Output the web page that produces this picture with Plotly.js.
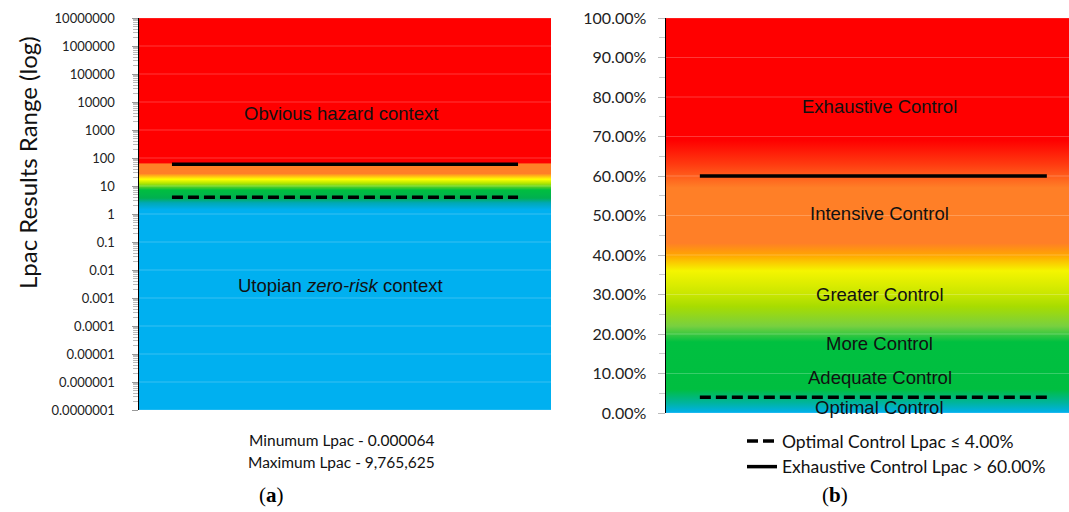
<!DOCTYPE html>
<html><head><meta charset="utf-8">
<script src="https://cdn.plot.ly/plotly-3.0.1.min.js"></script>
<style>html,body{margin:0;padding:0;background:#fff}#chart{width:1069px;height:512px}</style>
</head><body><div id="chart"></div><script>
// ---------- Panel (a) ----------
const leftTickVals = [1e-7, 1e-6, 1e-5, 1e-4, 1e-3, 1e-2, 1e-1, 1, 10, 100, 1000, 10000, 100000, 1000000, 10000000];
const leftTickText = ['0.0000001','0.000001','0.00001','0.0001','0.001','0.01','0.1','1','10','100','1000','10000','100000','1000000','10000000'];
const leftStopValues = [1e-7, 1.4, 2.5, 3.7, 7.2, 12.5, 17.4, 28, 63, 64.5, 1e7];
const leftStopColors = ['#00B0F0','#00B0F0','#00A8B4','#00B050','#00BE40','#B4E600','#FFFF00','#FF7F27','#FF7F27','#FF0000','#FF0000'];
const leftThresholds = [60, 4];            // solid, dashed
const leftZoneLabels = ['Obvious hazard context', 'Utopian <i>zero-risk</i> context'];
const leftZoneLabelValues = [4000, 0.0027];
const leftFooter = ['Minumum Lpac - 0.000064', 'Maximum Lpac - 9,765,625'];
const leftAxisTitle = 'Lpac Results Range (log)';

// ---------- Panel (b) ----------
const rightTickVals = [0, 10, 20, 30, 40, 50, 60, 70, 80, 90, 100];
const rightTickText = ['0.00%','10.00%','20.00%','30.00%','40.00%','50.00%','60.00%','70.00%','80.00%','90.00%','100.00%'];
const rightStopValues = [0, 2.5, 6, 18, 22, 27, 30, 36, 40, 43, 57, 63, 69, 100];
const rightStopColors = ['#00B0F0','#00B4A0','#00BE40','#00C040','#78D040','#A8DC00','#C8E600','#F5F500','#FFA500','#FF7F27','#FF7F27','#FF3A10','#FF0000','#FF0000'];
const rightThresholds = [4, 60];           // dashed, solid
const rightZoneLabels = ['Exhaustive Control','Intensive Control','Greater Control','More Control','Adequate Control','Optimal Control'];
const rightZoneLabelValues = [77.7, 50.4, 30.1, 17.7, 9.1, 1.5];
const legendNames = ['Optimal Control Lpac ≤ 4.00%', 'Exhaustive Control Lpac > 60.00%'];
const panelTags = ['(<b>a</b>)', '(<b>b</b>)'];

// ---------- helpers ----------
const lg = Math.log10;
const lBot = leftTickVals[0], lTop = leftTickVals[leftTickVals.length - 1];
const rBot = rightTickVals[0], rTop = rightTickVals[rightTickVals.length - 1];
const leftScale = leftStopValues.map((v, i) => [(lg(v) - lg(lBot)) / (lg(lTop) - lg(lBot)), leftStopColors[i]]);
const rightScale = rightStopValues.map((v, i) => [(v - rBot) / (rTop - rBot), rightStopColors[i]]);
function gridXY(vals) {
  const x = [], y = [];
  vals.forEach(v => { x.push(0, 1, null); y.push(v, v, null); });
  return {x, y};
}
const gL = gridXY(leftTickVals), gR = gridXY(rightTickVals);
const gridColor = 'rgba(255,255,255,0.22)';

const traces = [
  // panel a background
  {type:'scatter', mode:'lines', x:[0,1,1,0,0], y:[lBot,lBot,lTop,lTop,lBot], xaxis:'x', yaxis:'y',
   fill:'toself', line:{width:0}, fillgradient:{type:'vertical', colorscale:leftScale, start:lBot, stop:lTop},
   hoverinfo:'skip', showlegend:false},
  {type:'scatter', mode:'lines', x:gL.x, y:gL.y, xaxis:'x', yaxis:'y', line:{color:gridColor, width:1},
   hoverinfo:'skip', showlegend:false},
  {type:'scatter', mode:'lines', x:[0.08,0.92], y:[leftThresholds[0], leftThresholds[0]], xaxis:'x', yaxis:'y',
   line:{color:'#000', width:3.5}, showlegend:false},
  {type:'scatter', mode:'lines', x:[0.08,0.92], y:[leftThresholds[1], leftThresholds[1]], xaxis:'x', yaxis:'y',
   line:{color:'#000', width:3.5, dash:'11px,5px'}, showlegend:false},
  // panel b background
  {type:'scatter', mode:'lines', x:[0,1,1,0,0], y:[rBot,rBot,rTop,rTop,rBot], xaxis:'x2', yaxis:'y2',
   fill:'toself', line:{width:0}, fillgradient:{type:'vertical', colorscale:rightScale, start:rBot, stop:rTop},
   hoverinfo:'skip', showlegend:false},
  {type:'scatter', mode:'lines', x:gR.x, y:gR.y, xaxis:'x2', yaxis:'y2', line:{color:gridColor, width:1},
   hoverinfo:'skip', showlegend:false},
  {type:'scatter', mode:'lines', name:legendNames[0], x:[0.084,0.945], y:[rightThresholds[0], rightThresholds[0]], xaxis:'x2', yaxis:'y2',
   line:{color:'#000', width:3.5, dash:'11px,5px'}},
  {type:'scatter', mode:'lines', name:legendNames[1], x:[0.084,0.945], y:[rightThresholds[1], rightThresholds[1]], xaxis:'x2', yaxis:'y2',
   line:{color:'#000', width:3.5}}
];

const W = 1069, T = 18, B = 99, PH = 512 - T - B;
const py = p => (512 - B - p) / PH;   // pixel row -> paper y
const annots = [];
leftZoneLabels.forEach((t, i) => annots.push({xref:'x', yref:'y', x:0.49, y:lg(leftZoneLabelValues[i]), text:t, showarrow:false,
  xanchor:'center', yanchor:'middle', font:{family:'Liberation Sans, Arial, sans-serif', size:18.5, color:'#111'}}));
rightZoneLabels.forEach((t, i) => annots.push({xref:'x2', yref:'y2', x:0.531, y:rightZoneLabelValues[i], text:t, showarrow:false,
  xanchor:'center', yanchor:'middle', font:{family:'Liberation Sans, Arial, sans-serif', size:18.5, color:'#111'}}));
leftFooter.forEach((t, i) => annots.push({xref:'paper', yref:'paper', x:341/W, y:py(440 + 22*i), text:t, showarrow:false,
  xanchor:'center', yanchor:'middle', font:{family:'Lato, sans-serif', size:15.5, color:'#111'}}));
annots.push({xref:'paper', yref:'paper', x:28/W, y:py(163), text:leftAxisTitle, textangle:-90, showarrow:false,
  xanchor:'center', yanchor:'middle', font:{family:'Lato, sans-serif', size:24, color:'#111'}});
annots.push({xref:'paper', yref:'paper', x:271/W, y:py(495), text:panelTags[0], showarrow:false,
  xanchor:'center', yanchor:'middle', font:{family:'Liberation Serif, serif', size:21, color:'#000'}});
annots.push({xref:'paper', yref:'paper', x:835/W, y:py(495), text:panelTags[1], showarrow:false,
  xanchor:'center', yanchor:'middle', font:{family:'Liberation Serif, serif', size:21, color:'#000'}});

const layout = {
  width:W, height:512, margin:{l:0, r:0, t:T, b:B},
  paper_bgcolor:'#fff', plot_bgcolor:'rgba(0,0,0,0)', showlegend:true,
  xaxis:{domain:[139/W, 551/W], range:[0,1], visible:false, fixedrange:true},
  yaxis:{type:'log', range:[-7,7], domain:[(413-410)/PH, 1], anchor:'x',
    tickmode:'array', tickvals:leftTickVals, ticktext:leftTickText,
    ticks:'outside', ticklen:6, tickcolor:'#999', showline:true, linecolor:'#000', linewidth:1.5,
    ticklabelstandoff:14,
    showgrid:false, zeroline:false, tickfont:{family:'Lato, sans-serif', size:13, color:'#222'},
    minor:{dtick:'D1', ticks:'outside', ticklen:5, tickcolor:'#bbb', showgrid:false}},
  xaxis2:{domain:[666/W, 1], range:[0,1], visible:false, anchor:'y2', fixedrange:true},
  yaxis2:{range:[0,100], domain:[0,1], anchor:'x2',
    tickmode:'array', tickvals:rightTickVals, ticktext:rightTickText,
    ticks:'outside', ticklen:7, tickcolor:'#bbb', showline:true, linecolor:'#000', linewidth:1.5,
    ticklabelstandoff:8,
    showgrid:false, zeroline:false, tickfont:{family:'Lato, sans-serif', size:16, color:'#222'},
    minor:{dtick:5, ticks:'outside', ticklen:6, tickcolor:'#ccc', showgrid:false}},
  legend:{x:742/W, xanchor:'left', y:py(423), yanchor:'top', bgcolor:'rgba(0,0,0,0)',
    font:{family:'Lato, sans-serif', size:17.5, color:'#111'}, tracegroupgap:0},
  annotations:annots
};
Plotly.newPlot('chart', traces, layout, {staticPlot:true, displayModeBar:false});
</script></body></html>
